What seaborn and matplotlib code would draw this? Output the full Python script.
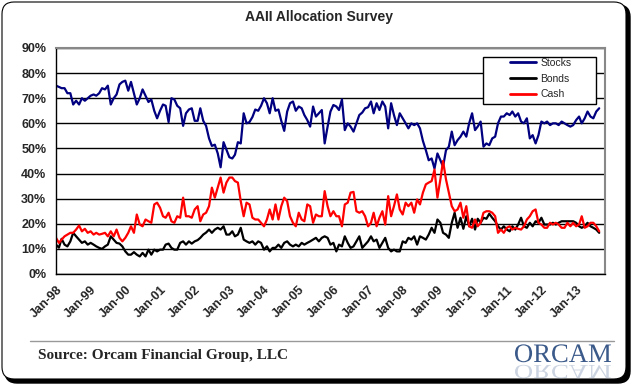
import numpy as np
import pandas as pd
import seaborn as sns
import matplotlib.pyplot as plt
import matplotlib.dates as mdates
from matplotlib.patches import FancyBboxPatch, PathPatch, Rectangle
from matplotlib.lines import Line2D
from matplotlib.textpath import TextPath
from matplotlib.font_manager import FontProperties
from matplotlib.transforms import Affine2D, IdentityTransform

W, H = 634, 387

# monthly survey values (%), Jan-98 .. Sep-13
stocks = [75, 74.5, 74, 74, 72, 72, 67.5, 69, 67.5, 70, 69, 70,
          71, 71.5, 71, 72, 74, 73.5, 75, 67.5, 70, 71.5, 75.5, 76.5,
          77, 73, 76.5, 72, 67.5, 70, 73.5, 71, 68.5, 69.5, 65, 62,
          65, 67.5, 67, 60.5, 70, 69.5, 67, 66, 59, 64, 65.5, 66,
          61, 61, 66, 61, 59, 54, 51, 51.5, 48, 42.5, 52.5, 49.5,
          46.5, 46, 47.5, 52.5, 52, 64, 60, 60.5, 62.5, 65.5, 65, 67,
          70, 68, 64, 70, 65, 65.5, 61, 57, 64.7, 68, 68.7, 65,
          66.7, 66, 63.3, 61.3, 58.7, 66.7, 62.7, 64, 65.3, 52, 58.7, 64.7,
          67.3, 66.7, 65.3, 69.5, 57.3, 60, 58.7, 56.7, 60, 63.3, 64.3, 66,
          66.4, 68.7, 64, 68, 65.3, 68.7, 66.7, 58, 68, 63.3, 59.3, 64,
          62, 60, 58, 60, 59.3, 60, 58, 53, 49.3, 45.3, 46, 42,
          48, 45.3, 42.7, 49.3, 50.7, 56.7, 51.3, 53.3, 54.7, 56.7, 54.7, 60,
          64, 57.3, 58.7, 60.7, 50.7, 52, 51.3, 54, 54.7, 60, 62.7, 62.7,
          64, 63.3, 64.7, 62.7, 64, 60.7, 60, 62, 54, 55.3, 52, 55.3,
          60.7, 60, 60.7, 59.3, 60, 60, 59.3, 60.7, 60, 59.3, 58.7, 59.3,
          61.3, 62.7, 60, 62, 64.7, 62.7, 62, 64.7, 66]

bonds = [11.7, 10.5, 14, 11.7, 11, 13, 16.4, 15, 13.7, 12.4, 13, 11.7,
         12.4, 11.7, 11, 10.4, 10, 11, 11.7, 15, 13.7, 12.4, 12.1, 11,
         9, 7.7, 7.7, 8.7, 7.7, 7, 8.4, 7, 9.7, 7.7, 9.7, 9,
         9.7, 9.7, 11.7, 12.1, 10.4, 9.7, 9.7, 12.4, 13, 11.7, 13, 12.1,
         13, 13.5, 14.4, 15.7, 16.5, 17.7, 16.4, 17.7, 18.4, 17.7, 19, 15.7,
         15.7, 17, 15, 15.7, 18.4, 13.7, 13, 12.4, 13, 11.7, 13, 12.4,
         9.7, 11, 9, 10.4, 10.4, 11.7, 10.4, 12.4, 13, 11.7, 11, 11.7,
         11, 12.4, 11.7, 12.4, 13, 13.7, 14.4, 13, 14.4, 15, 14.4, 11.7,
         12.4, 9, 11.7, 11, 15, 12.4, 10.4, 11, 13, 15, 10.4, 11.7,
         13, 15, 13, 13.7, 10.4, 12.4, 14.4, 10.4, 9, 9.7, 9, 9,
         13, 12.4, 14.4, 13.7, 15, 11.7, 15, 14.4, 13.7, 15.7, 18.4, 16.4,
         21.7, 20.4, 16.4, 15.7, 14.4, 20.4, 24.4, 18.4, 22.4, 18, 23, 19,
         22, 17.7, 22, 20.4, 22.4, 22, 24, 22.4, 21, 19, 17.7, 19,
         17.7, 17, 19, 17.7, 19.7, 22.4, 19, 18.4, 20.4, 19, 21, 20.4,
         22.4, 19.7, 19.7, 19.7, 20.4, 19.7, 20.4, 21, 21, 21, 21, 21,
         20.4, 19, 18.4, 19, 20.4, 19, 18.4, 17.7, 16.4]

cash = [14.4, 12.4, 13.7, 15, 15.7, 16.4, 16.4, 17.7, 19.3, 17, 18, 16.4,
        17, 15.7, 16.4, 15.7, 16, 16.4, 15, 17, 15, 17.7, 14.4, 13,
        14.4, 16.4, 19, 16.4, 23.7, 19.7, 19, 21.7, 21, 20.4, 27.7, 28.4,
        26.4, 23, 22.4, 24.4, 21, 20.4, 23, 22.4, 30.4, 23, 23, 22.4,
        25.7, 27, 21, 23.7, 24.4, 27, 34.4, 30.4, 34.4, 38.4, 32.4, 36.4,
        38.4, 38.4, 37, 36.4, 29, 23, 28.4, 27.7, 22.4, 21.7, 21.7, 20.4,
        19, 21.7, 25.7, 21.7, 27.7, 21.7, 27, 30.4, 29, 23, 20.4, 19,
        24.4, 21.7, 21, 27.7, 27, 20.4, 23.7, 23, 23, 33, 27, 23,
        25, 23, 23, 19, 27.7, 28.4, 32.4, 32.7, 25, 24.4, 25, 23,
        19, 20.4, 24.4, 19, 22.4, 25, 19.7, 31, 23, 27, 31.7, 25.7,
        23.7, 28.4, 27, 28.4, 24.4, 29.7, 27.7, 32.4, 35.7, 36.4, 37, 41.6,
        30.4, 37.7, 45, 37.7, 32.4, 27, 25, 25.7, 28.4, 22.4, 27, 19,
        18.4, 21.7, 19, 20.4, 24.4, 25, 25, 24.4, 23, 16.4, 17.7, 16.4,
        18.4, 19, 17.7, 18.4, 18, 17.7, 19, 21.7, 23, 25, 25.7, 20.4,
        19.7, 18.4, 18.4, 20.4, 19.7, 20.4, 19.7, 18.4, 18.4, 20.4, 19, 20.4,
        19, 19.7, 23, 18.4, 19, 20.4, 20.4, 19, 17]

series_names = ["Stocks", "Bonds", "Cash"]
colors = {"Stocks": "#000080", "Bonds": "#000000", "Cash": "#ff0000"}
y_ticks = list(range(0, 100, 10))
tick_years = list(range(1998, 2014))

months = pd.date_range("1998-01-01", periods=len(stocks), freq="MS")
df = pd.DataFrame({"Month": months, "Stocks": stocks, "Bonds": bonds, "Cash": cash})
long = df.melt(id_vars="Month", var_name="Series", value_name="Pct")

sns.set_style("white")
plt.rcParams["font.family"] = ["Liberation Sans", "DejaVu Sans"]

fig = plt.figure(figsize=(W / 100, H / 100), dpi=100)
px = IdentityTransform()

# rounded frame with dark shadow
fig.add_artist(FancyBboxPatch((5, 4), 625, 378, boxstyle="round,pad=0,rounding_size=12",
                              transform=px, fc="black", ec="black", zorder=-3))
fig.add_artist(FancyBboxPatch((2, 8), 624, 377, boxstyle="round,pad=0,rounding_size=12",
                              transform=px, fc="white", ec="black", lw=0.8, zorder=-2))

ax = fig.add_axes([56 / W, 1 - 274 / H, (605 - 56) / W, (274 - 48) / H])
sns.lineplot(data=long, x="Month", y="Pct", hue="Series", hue_order=series_names,
             palette=colors, linewidth=1.6, ax=ax, legend=False)

ax.set_ylim(0, 90)
ax.set_yticks(y_ticks)
ax.set_yticklabels([f"{v}%" for v in y_ticks])
ax.set_xlim(pd.Timestamp("1998-01-01"), pd.Timestamp("2013-11-01"))
ax.set_xticks([pd.Timestamp(f"{y}-01-01") for y in tick_years])
ax.xaxis.set_major_formatter(mdates.DateFormatter("%b-%y"))
ax.set_xlabel("")
ax.set_ylabel("")
ax.yaxis.grid(True, color="black", lw=1)
ax.set_axisbelow(True)
for lab in ax.get_xticklabels():
    lab.set_rotation(45)
    lab.set_ha("right")
    lab.set_rotation_mode("anchor")
ax.tick_params(axis="both", which="major", direction="out", length=4, width=1,
               color="black", labelsize=9, pad=3)
for lab in ax.get_xticklabels() + ax.get_yticklabels():
    lab.set_fontweight("bold")
for s in ["left", "bottom"]:
    ax.spines[s].set_color("black")
    ax.spines[s].set_linewidth(1)
for s in ["top", "right"]:
    ax.spines[s].set_color("#888888")
    ax.spines[s].set_linewidth(1.5)

# legend: wide box drawn separately, entries placed inside it
ax.add_patch(Rectangle((483, H - 104), 113, 47, transform=px, fc="white",
                       ec="black", lw=1, zorder=5, clip_on=False))
handles = [Line2D([], [], color=colors[n], lw=2) for n in series_names]
leg = ax.legend(handles, series_names, loc="upper left",
                bbox_to_anchor=(510 / W, 1 - 58 / H), bbox_transform=fig.transFigure,
                frameon=False, fontsize=7.5, handlelength=2.5, handletextpad=0.4,
                labelspacing=0.55, borderpad=0, borderaxespad=0)
leg.set_zorder(6)

fig.text(319 / W, 1 - 17 / H, "AAII Allocation Survey", ha="center", va="center",
         fontsize=10, fontweight="bold")

# footer
fig.add_artist(Line2D([30, 614], [H - 341, H - 341], transform=px, color="#999999", lw=1))
fig.text(38 / W, 1 - 356 / H, "Source: Orcam Financial Group, LLC", ha="left", va="center",
         fontsize=11, fontweight="bold", family="Liberation Serif")

tp = TextPath((0, 0), "ORCAM", size=20, prop=FontProperties(family="Liberation Serif"))
bb = tp.get_extents()
sx = 96 / bb.width
logo = PathPatch(tp, transform=Affine2D().translate(-bb.x0, 0).scale(sx, sx).translate(515, H - 362) + px,
                 fc="#3b5a8a", ec="none")
fig.add_artist(logo)
refl = PathPatch(tp, transform=Affine2D().translate(-bb.x0, 0).scale(sx, -sx * 0.75).translate(515, H - 365) + px,
                 fc="#9aaac4", ec="none", alpha=0.5)
fig.add_artist(refl)

fig.savefig("out.png", dpi=100)
